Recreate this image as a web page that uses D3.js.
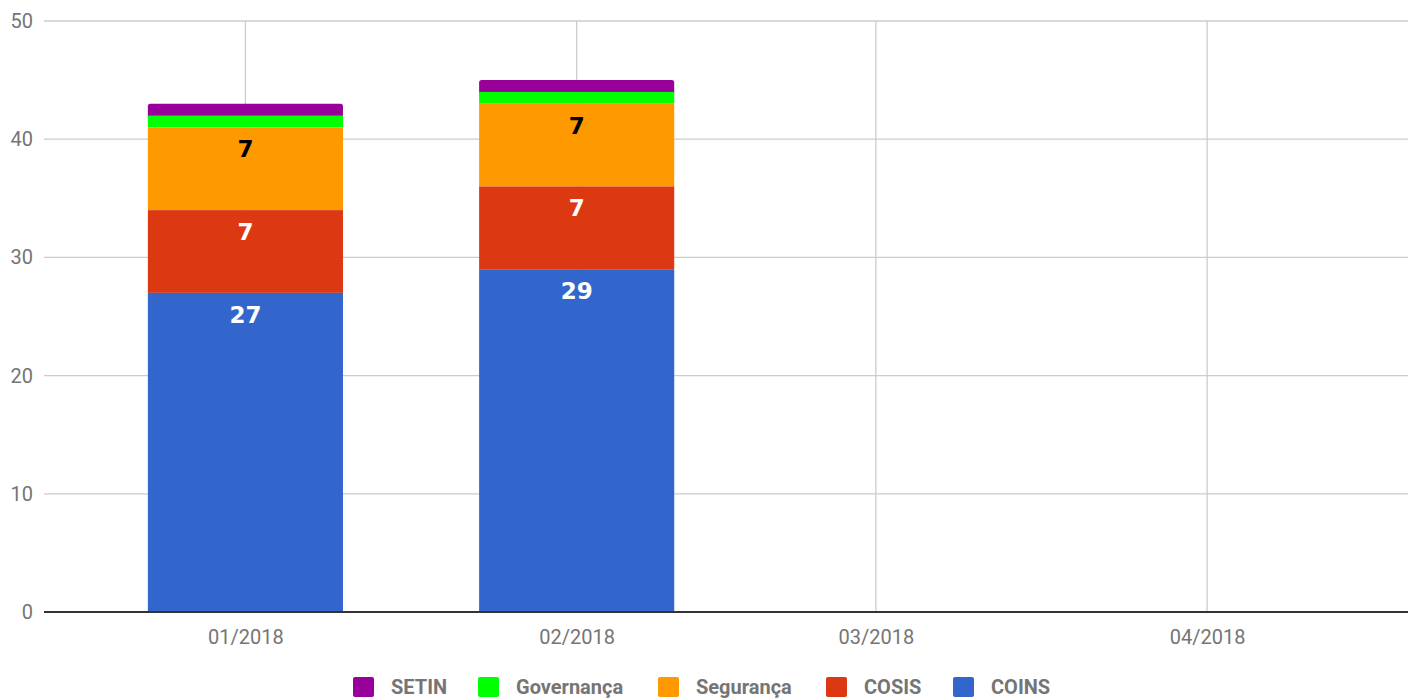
<!DOCTYPE html>
<html>
<head>
<meta charset="utf-8">
<script src="https://cdn.jsdelivr.net/npm/d3@7"></script>
<style>
  body { margin: 0; background: #fff; }
  svg { display: block; font-family: Roboto, "Noto Sans", sans-serif; }
</style>
</head>
<body>
<svg id="chart" width="1415" height="700"></svg>
<script>
// data
const months = ['2018-01-01', '2018-02-01', '2018-03-01', '2018-04-01'];
const tickLabels = ['01/2018', '02/2018', '03/2018', '04/2018'];
const seriesNames = ['COINS', 'COSIS', 'Segurança', 'Governança', 'SETIN'];
const coins = [27, 29, 0, 0];
const cosis = [7, 7, 0, 0];
const seguranca = [7, 7, 0, 0];
const governanca = [1, 1, 0, 0];
const setin = [1, 1, 0, 0];
const yTicks = [0, 10, 20, 30, 40, 50];
const legendOrder = ['SETIN', 'Governança', 'Segurança', 'COSIS', 'COINS'];

const colors = {
  'COINS': '#3366cc',
  'COSIS': '#dc3912',
  'Segurança': '#ff9900',
  'Governança': '#00ff00',
  'SETIN': '#990099'
};
const labelColors = { 'COINS': '#fff', 'COSIS': '#fff', 'Segurança': '#000' };

const seriesValues = [coins, cosis, seguranca, governanca, setin];
const dates = months.map(m => new Date(m + 'T00:00:00Z'));
const table = dates.map((d, i) => {
  const row = { date: d };
  seriesNames.forEach((s, k) => row[s] = seriesValues[k][i]);
  return row;
});

const DAY = 864e5;
const svg = d3.select('#chart');
const margin = { left: 44, right: 7, top: 21, bottom: 88 };
const width = 1415, height = 700;

const x = d3.scaleUtc()
  .domain([new Date(dates[0] - 18.85 * DAY), new Date(+dates[3] + 18.8 * DAY)])
  .range([margin.left, width - margin.right]);
const y = d3.scaleLinear().domain([0, 50]).range([height - margin.bottom, margin.top]);

const halfBar = 9.13 * DAY;

// grid
svg.append('g').selectAll('line.h')
  .data(yTicks.slice(1))
  .join('line')
  .attr('x1', x.range()[0]).attr('x2', x.range()[1])
  .attr('y1', d => y(d)).attr('y2', d => y(d))
  .attr('stroke', '#cccccc').attr('stroke-width', 1.3);

svg.append('g').selectAll('line.v')
  .data(dates)
  .join('line')
  .attr('x1', d => x(d)).attr('x2', d => x(d))
  .attr('y1', y(50)).attr('y2', y(0))
  .attr('stroke', '#cccccc').attr('stroke-width', 1.3);

// bars
const stacked = d3.stack().keys(seriesNames)(table);
const barGroup = svg.append('g');
stacked.slice().reverse().forEach(layer => {
  const key = layer.key;
  const isTop = key === 'SETIN';
  barGroup.append('g').selectAll('rect')
    .data(layer.filter(d => d[1] - d[0] > 0))
    .join('rect')
    .attr('x', d => x(new Date(+d.data.date - halfBar)))
    .attr('width', d => x(new Date(+d.data.date + halfBar)) - x(new Date(+d.data.date - halfBar)))
    .attr('y', d => y(d[1]))
    .attr('height', d => y(d[0]) - y(d[1]) + (isTop ? 4 : 0))
    .attr('rx', isTop ? 2.5 : 0)
    .attr('fill', colors[key]);
});

// value labels
stacked.forEach(layer => {
  const key = layer.key;
  if (!labelColors[key]) return;
  svg.append('g').selectAll('text')
    .data(layer.filter(d => d[1] - d[0] > 0))
    .join('text')
    .attr('x', d => x(d.data.date))
    .attr('y', d => y(d[1]) + 30)
    .attr('text-anchor', 'middle')
    .attr('font-family', '"DejaVu Sans", sans-serif')
    .attr('font-weight', 'bold')
    .attr('font-size', 23)
    .attr('fill', labelColors[key])
    .text(d => d.data[key]);
});

// axes
const xAxis = svg.append('g')
  .attr('transform', `translate(0,${y(0)})`)
  .call(d3.axisBottom(x).tickValues(dates).tickFormat((d, i) => tickLabels[i]).tickSize(0).tickPadding(18));
xAxis.select('.domain').remove();
xAxis.selectAll('text').attr('font-size', 20).attr('fill', '#757575').attr('font-family', 'Roboto, sans-serif');

svg.append('line')
  .attr('x1', x.range()[0]).attr('x2', x.range()[1])
  .attr('y1', y(0)).attr('y2', y(0))
  .attr('stroke', '#333').attr('stroke-width', 2);

const yAxis = svg.append('g')
  .attr('transform', `translate(${margin.left},0)`)
  .call(d3.axisLeft(y).tickValues(yTicks).tickSize(0).tickPadding(11));
yAxis.select('.domain').remove();
yAxis.selectAll('text').attr('font-size', 20).attr('fill', '#757575').attr('font-family', 'Roboto, sans-serif');

// legend
const legendX = [353, 478, 658, 826, 953];
const legend = svg.append('g').attr('transform', 'translate(0,677)');
legendOrder.forEach((name, i) => {
  legend.append('rect')
    .attr('x', legendX[i]).attr('y', 0)
    .attr('width', 21).attr('height', 20)
    .attr('rx', 2)
    .attr('fill', colors[name]);
  legend.append('text')
    .attr('x', legendX[i] + 38).attr('y', 17)
    .attr('font-size', 20)
    .attr('font-weight', 'bold')
    .attr('fill', '#757575')
    .text(name);
});
</script>
</body>
</html>
